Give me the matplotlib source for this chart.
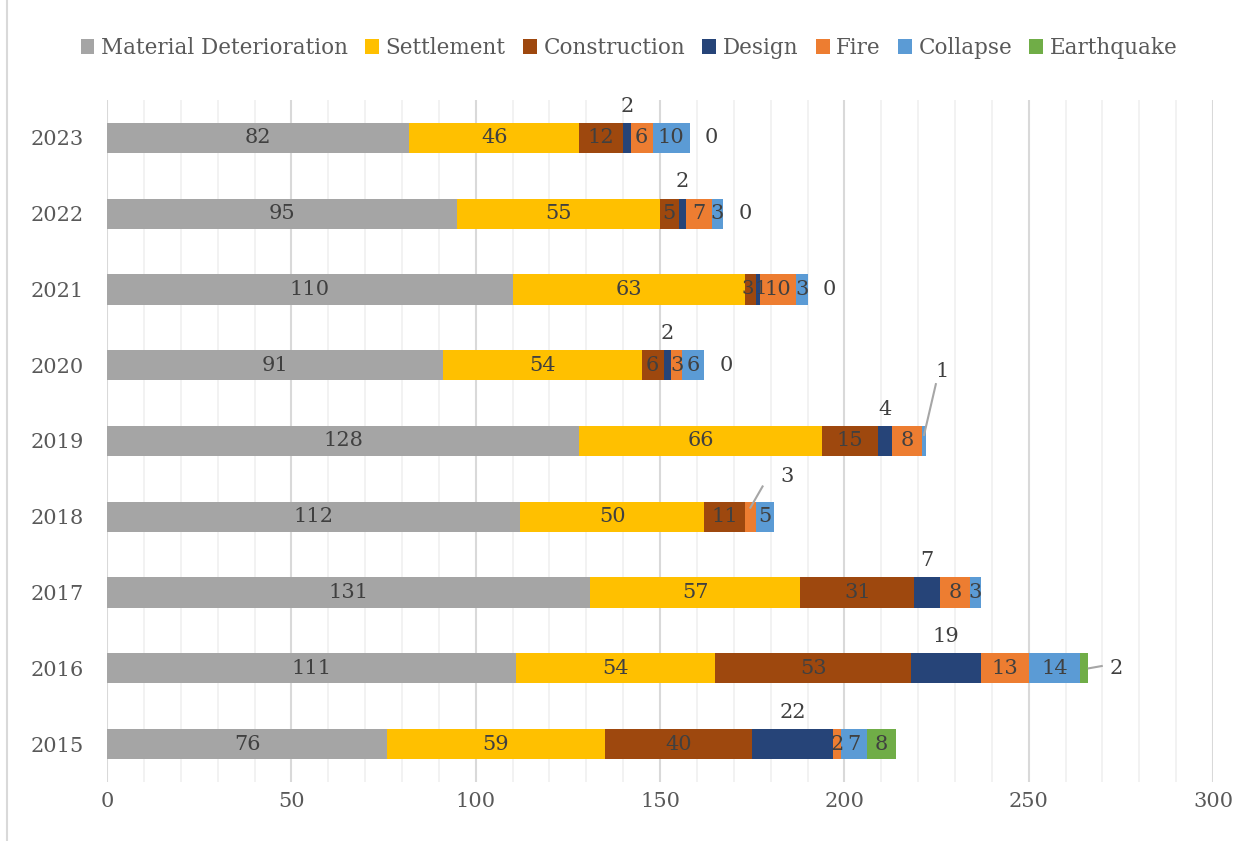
import matplotlib.pyplot as plt
from matplotlib.lines import Line2D
from matplotlib.ticker import MultipleLocator
import numpy as np

plt.rcParams['font.family'] = ['DejaVu Serif']

# incidents by cause and year
years = ['2023', '2022', '2021', '2020', '2019', '2018', '2017', '2016', '2015']
causes = ['Material Deterioration', 'Settlement', 'Construction', 'Design',
          'Fire', 'Collapse', 'Earthquake']
material = [82, 95, 110, 91, 128, 112, 131, 111, 76]
settlement = [46, 55, 63, 54, 66, 50, 57, 54, 59]
construction = [12, 5, 3, 6, 15, 11, 31, 53, 40]
design = [2, 2, 1, 2, 4, 0, 7, 19, 22]
fire = [6, 7, 10, 3, 8, 3, 8, 13, 2]
collapse = [10, 3, 3, 6, 1, 5, 3, 14, 7]
earthquake = [0, 0, 0, 0, 0, 0, 0, 2, 8]

colors = ['#A5A5A5', '#FFC000', '#9E480E', '#264478', '#ED7D31', '#5B9BD5', '#70AD47']
series = [material, settlement, construction, design, fire, collapse, earthquake]

fig = plt.figure(figsize=(12.58, 8.41), dpi=100)
ax = fig.add_axes([0.0851, 0.0702, 0.8792, 0.8109])

y = np.arange(len(years))
left = np.zeros(len(years))
label_color = '#404040'
fs = 15

for name, vals, col in zip(causes, series, colors):
    vals = np.array(vals)
    ax.barh(y, vals, left=left, height=0.4, color=col, label=name, zorder=3)
    for i, v in enumerate(vals):
        cx = left[i] + v / 2
        yr = years[i]
        if name == 'Design' and v > 0 and yr != '2021':
            ax.text(cx, y[i] - 0.42, str(v), ha='center', va='center',
                    fontsize=fs, color=label_color, zorder=4)
        elif yr == '2021' and name in ('Construction', 'Design'):
            # tight spot: nudge the two small labels apart
            dx = -0.6 if name == 'Construction' else 0.8
            ax.text(cx + dx, y[i], str(v), ha='center', va='center',
                    fontsize=fs - 1, color=label_color, zorder=4)
        elif name == 'Earthquake' and yr in ('2023', '2022', '2021', '2020'):
            ax.text(left[i] + 6, y[i], '0', ha='center', va='center',
                    fontsize=fs, color=label_color, zorder=4)
        elif (yr, name) in [('2019', 'Collapse'), ('2018', 'Fire'), ('2016', 'Earthquake')]:
            pass
        elif v > 0:
            ax.text(cx, y[i], str(v), ha='center', va='center',
                    fontsize=fs, color=label_color, zorder=4)
    left += vals

# callouts with leader lines
lead = '#A6A6A6'
callouts = [
    # (row, text, label x, label dy, line from, line to)
    (4, '1', 226.5, -0.92, (221.6, -0.08), (224.8, -0.75)),
    (5, '3', 184.5, -0.53, (174.5, -0.12), (177.8, -0.40)),
    (7, '2', 273.6, 0.0, (266.3, 0.0), (269.8, -0.03)),
]
for row, txt, lx, ldy, p0, p1 in callouts:
    ax.plot([p0[0], p1[0]], [row + p0[1], row + p1[1]], color=lead, lw=1.5, zorder=4)
    ax.text(lx, row + ldy, txt, ha='center', va='center', fontsize=fs,
            color=label_color, zorder=4)

ax.set_xlim(0, 300)
ax.set_ylim(len(years) - 0.5, -0.5)
ax.set_yticks(y)
ax.set_yticklabels(years)
ax.xaxis.set_major_locator(MultipleLocator(50))
ax.xaxis.set_minor_locator(MultipleLocator(10))
ax.grid(axis='x', which='major', color='#D9D9D9', lw=1.5, zorder=0)
ax.grid(axis='x', which='minor', color='#F0F0F0', lw=1.2, zorder=0)
ax.tick_params(axis='both', which='both', length=0, labelsize=fs, colors='#595959')
ax.tick_params(axis='x', pad=7)
ax.tick_params(axis='y', pad=17)
for s in ax.spines.values():
    s.set_visible(False)

leg = fig.legend(loc='center', bbox_to_anchor=(0.5, 0.943), ncol=7, frameon=False,
                 fontsize=15.5, handlelength=0.65, handleheight=0.65, handletextpad=0.3,
                 columnspacing=0.8, labelcolor='#595959')

# chart border on the left side
fig.add_artist(Line2D([0.0056, 0.0056], [0.0, 1.0], color='#D9D9D9', lw=1.5))

plt.savefig('out.png', dpi=100)
